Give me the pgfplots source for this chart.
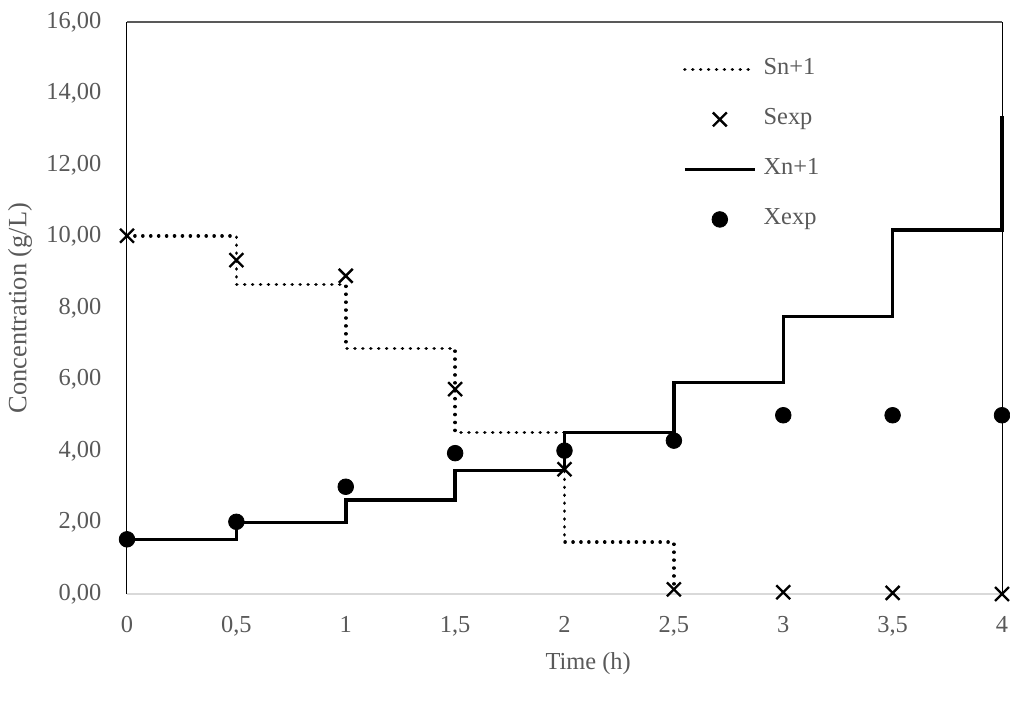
\documentclass[border=0pt]{standalone}
\usepackage{fontspec}
\setmainfont{Liberation Serif}
\usepackage{pgfplots}
\pgfplotsset{compat=1.18}
\definecolor{txt}{HTML}{595959}
\definecolor{lgray}{HTML}{D9D9D9}
\begin{document}
\fontsize{12.2}{14}\selectfont
\begin{tikzpicture}
\useasboundingbox (-63.5pt,-56pt) rectangle (441.5pt,297pt);
\begin{axis}[
  scale only axis, width=437.5pt, height=286pt,
  at={(0pt,0pt)}, anchor=south west,
  xmin=0, xmax=4, ymin=0, ymax=16,
  xtick={0,0.5,1,1.5,2,2.5,3,3.5,4},
  ytick={0,2,4,6,8,10,12,14,16},
  major tick length=0pt,
  axis line style={draw=none},
  clip=false,
  /pgf/number format/assume math mode=true,
  yticklabel style={/pgf/number format/fixed, /pgf/number format/fixed zerofill,
     /pgf/number format/precision=2, /pgf/number format/use comma,
     text=txt, xshift=-8.6pt},
  xticklabel style={/pgf/number format/fixed, /pgf/number format/use comma,
     text=txt, yshift=-7pt},
  xlabel={Time (h)}, ylabel={Concentration (g/L)},
  xlabel style={at={(axis description cs:0.527,-0.122)}, anchor=center, text=txt},
  ylabel style={at={(axis description cs:-0.1223,0.5)}, anchor=center, text=txt,
     font=\fontsize{13.2}{15}\selectfont},
  legend cell align=left,
  legend image code/.code={\draw[mark repeat=2,mark phase=2,#1] plot coordinates {(0pt,0pt)(17.5pt,0pt)(35pt,0pt)};},
  legend style={draw=none, fill=none, at={(rel axis cs:0.635,0.937)}, anchor=north west,
     inner sep=0pt, row sep=14pt, column sep=3.5pt,
     nodes={inner sep=0pt, text height=8pt, text depth=3pt, text=txt}},
]
\draw[lgray, line width=1pt] (rel axis cs:0,0) -- (rel axis cs:1,0);
\draw[txt, line width=0.7pt] (rel axis cs:0,1) -- (rel axis cs:1,1);
\draw[black, line width=0.5pt] (rel axis cs:0,0) -- (rel axis cs:0,1);
\draw[black, line width=0.5pt] (rel axis cs:1,0) -- (rel axis cs:1,1);

\addplot[black, line width=1.8pt, line cap=round, dash pattern=on 0.01pt off 3.95pt, const plot, mark=none]
  coordinates {(0,10.02)(0.5,8.66)(1,6.87)(1.5,4.52)(2,1.45)(2.5,0.15)};
\addlegendentry{Sn+1}
\addplot[only marks, mark=x, mark size=4.9pt, mark options={black, line width=1.2pt}]
  coordinates {(0,10.02)(0.5,9.34)(1,8.9)(1.5,5.73)(2,3.49)(2.5,0.13)(3,0.05)(3.5,0.03)(4,0.0)};
\addlegendentry{Sexp}
\addplot[black, line width=1.75pt, const plot, mark=none]
  coordinates {(0,1.53)(0.5,2.0)(1,2.63)(1.5,3.46)(2,4.52)(2.5,5.91)(3,7.76)(3.5,10.18)(4,13.37)};
\addlegendentry{Xn+1}
\addplot[only marks, mark=*, mark size=3.9pt, mark options={black, fill=black}]
  coordinates {(0,1.53)(0.5,2.02)(1,3.0)(1.5,3.94)(2,4.01)(2.5,4.29)(3,5.0)(3.5,5.0)(4,5.0)};
\addlegendentry{Xexp}
\end{axis}
\end{tikzpicture}
\end{document}
